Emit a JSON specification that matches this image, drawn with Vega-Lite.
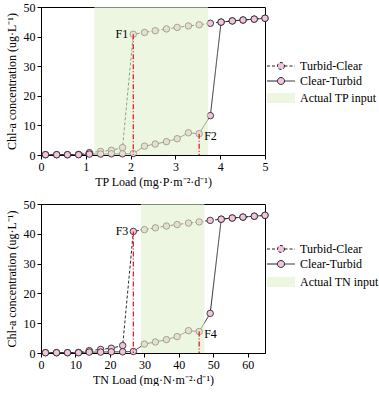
{
  "$schema": "https://vega.github.io/schema/vega-lite/v6.json",
  "padding": {"left": 4, "top": 0, "right": 0, "bottom": 0},
  "spacing": 9,
  "config": {
    "font": "Liberation Serif",
    "view": {"stroke": "black", "strokeWidth": 1},
    "axis": {"labelFont": "Liberation Serif", "titleFont": "Liberation Serif", "labelFontSize": 12, "titleFontSize": 12, "titleFontWeight": "normal", "labelColor": "black", "titleColor": "black", "domainColor": "black", "tickColor": "black", "grid": false, "tickSize": 4, "labelPadding": 2, "labelOverlap": false, "labelFlush": false},
    "legend": {"labelFont": "Liberation Serif", "labelFontSize": 12, "labelColor": "black", "padding": 0}
  },
  "datasets": {
    "tp": [
      {"load": 0.1, "chla": 0.1, "series": "Turbid-Clear"},
      {"load": 0.35, "chla": 0.1, "series": "Turbid-Clear"},
      {"load": 0.59, "chla": 0.1, "series": "Turbid-Clear"},
      {"load": 0.84, "chla": 0.2, "series": "Turbid-Clear"},
      {"load": 1.08, "chla": 0.8, "series": "Turbid-Clear"},
      {"load": 1.33, "chla": 1.2, "series": "Turbid-Clear"},
      {"load": 1.57, "chla": 1.6, "series": "Turbid-Clear"},
      {"load": 1.82, "chla": 2.5, "series": "Turbid-Clear"},
      {"load": 2.06, "chla": 40.8, "series": "Turbid-Clear"},
      {"load": 2.31, "chla": 41.4, "series": "Turbid-Clear"},
      {"load": 2.55, "chla": 42.0, "series": "Turbid-Clear"},
      {"load": 2.8, "chla": 42.6, "series": "Turbid-Clear"},
      {"load": 3.04, "chla": 43.1, "series": "Turbid-Clear"},
      {"load": 3.29, "chla": 43.6, "series": "Turbid-Clear"},
      {"load": 3.53, "chla": 44.0, "series": "Turbid-Clear"},
      {"load": 3.78, "chla": 44.5, "series": "Turbid-Clear"},
      {"load": 4.02, "chla": 44.9, "series": "Turbid-Clear"},
      {"load": 4.27, "chla": 45.3, "series": "Turbid-Clear"},
      {"load": 4.51, "chla": 45.6, "series": "Turbid-Clear"},
      {"load": 4.76, "chla": 45.9, "series": "Turbid-Clear"},
      {"load": 5.0, "chla": 46.2, "series": "Turbid-Clear"},
      {"load": 0.1, "chla": 0.1, "series": "Clear-Turbid"},
      {"load": 0.35, "chla": 0.1, "series": "Clear-Turbid"},
      {"load": 0.59, "chla": 0.1, "series": "Clear-Turbid"},
      {"load": 0.84, "chla": 0.1, "series": "Clear-Turbid"},
      {"load": 1.08, "chla": 0.3, "series": "Clear-Turbid"},
      {"load": 1.33, "chla": 0.3, "series": "Clear-Turbid"},
      {"load": 1.57, "chla": 0.4, "series": "Clear-Turbid"},
      {"load": 1.82, "chla": 0.4, "series": "Clear-Turbid"},
      {"load": 2.06, "chla": 0.5, "series": "Clear-Turbid"},
      {"load": 2.31, "chla": 3.0, "series": "Clear-Turbid"},
      {"load": 2.55, "chla": 3.7, "series": "Clear-Turbid"},
      {"load": 2.8, "chla": 4.5, "series": "Clear-Turbid"},
      {"load": 3.04, "chla": 5.5, "series": "Clear-Turbid"},
      {"load": 3.29, "chla": 7.5, "series": "Clear-Turbid"},
      {"load": 3.53, "chla": 7.2, "series": "Clear-Turbid"},
      {"load": 3.78, "chla": 13.3, "series": "Clear-Turbid"},
      {"load": 4.02, "chla": 44.9, "series": "Clear-Turbid"},
      {"load": 4.27, "chla": 45.3, "series": "Clear-Turbid"},
      {"load": 4.51, "chla": 45.6, "series": "Clear-Turbid"},
      {"load": 4.76, "chla": 45.9, "series": "Clear-Turbid"},
      {"load": 5.0, "chla": 46.2, "series": "Clear-Turbid"}
    ],
    "tn": [
      {"load": 1.3, "chla": 0.1, "series": "Turbid-Clear"},
      {"load": 4.5, "chla": 0.1, "series": "Turbid-Clear"},
      {"load": 7.7, "chla": 0.1, "series": "Turbid-Clear"},
      {"load": 10.9, "chla": 0.2, "series": "Turbid-Clear"},
      {"load": 14.0, "chla": 0.8, "series": "Turbid-Clear"},
      {"load": 17.3, "chla": 1.2, "series": "Turbid-Clear"},
      {"load": 20.4, "chla": 1.6, "series": "Turbid-Clear"},
      {"load": 23.7, "chla": 2.5, "series": "Turbid-Clear"},
      {"load": 26.8, "chla": 40.8, "series": "Turbid-Clear"},
      {"load": 30.0, "chla": 41.4, "series": "Turbid-Clear"},
      {"load": 33.2, "chla": 42.0, "series": "Turbid-Clear"},
      {"load": 36.4, "chla": 42.6, "series": "Turbid-Clear"},
      {"load": 39.5, "chla": 43.1, "series": "Turbid-Clear"},
      {"load": 42.8, "chla": 43.6, "series": "Turbid-Clear"},
      {"load": 45.9, "chla": 44.0, "series": "Turbid-Clear"},
      {"load": 49.1, "chla": 44.5, "series": "Turbid-Clear"},
      {"load": 52.3, "chla": 44.9, "series": "Turbid-Clear"},
      {"load": 55.5, "chla": 45.3, "series": "Turbid-Clear"},
      {"load": 58.6, "chla": 45.6, "series": "Turbid-Clear"},
      {"load": 61.9, "chla": 45.9, "series": "Turbid-Clear"},
      {"load": 65.0, "chla": 46.2, "series": "Turbid-Clear"},
      {"load": 1.3, "chla": 0.1, "series": "Clear-Turbid"},
      {"load": 4.5, "chla": 0.1, "series": "Clear-Turbid"},
      {"load": 7.7, "chla": 0.1, "series": "Clear-Turbid"},
      {"load": 10.9, "chla": 0.1, "series": "Clear-Turbid"},
      {"load": 14.0, "chla": 0.3, "series": "Clear-Turbid"},
      {"load": 17.3, "chla": 0.3, "series": "Clear-Turbid"},
      {"load": 20.4, "chla": 0.4, "series": "Clear-Turbid"},
      {"load": 23.7, "chla": 0.4, "series": "Clear-Turbid"},
      {"load": 26.8, "chla": 0.5, "series": "Clear-Turbid"},
      {"load": 30.0, "chla": 3.0, "series": "Clear-Turbid"},
      {"load": 33.2, "chla": 3.7, "series": "Clear-Turbid"},
      {"load": 36.4, "chla": 4.5, "series": "Clear-Turbid"},
      {"load": 39.5, "chla": 5.5, "series": "Clear-Turbid"},
      {"load": 42.8, "chla": 7.5, "series": "Clear-Turbid"},
      {"load": 45.9, "chla": 7.2, "series": "Clear-Turbid"},
      {"load": 49.1, "chla": 13.3, "series": "Clear-Turbid"},
      {"load": 52.3, "chla": 44.9, "series": "Clear-Turbid"},
      {"load": 55.5, "chla": 45.3, "series": "Clear-Turbid"},
      {"load": 58.6, "chla": 45.6, "series": "Clear-Turbid"},
      {"load": 61.9, "chla": 45.9, "series": "Clear-Turbid"},
      {"load": 65.0, "chla": 46.2, "series": "Clear-Turbid"}
    ],
    "tpShade": [{"x1": 1.19, "x2": 3.73, "label": "Actual TP input"}],
    "tnShade": [{"x1": 29.0, "x2": 47.4, "label": "Actual TN input"}],
    "tpF": [{"load": 2.06, "chla": 40.8, "name": "F1"}, {"load": 3.53, "chla": 7.2, "name": "F2"}],
    "tnF": [{"load": 26.8, "chla": 40.8, "name": "F3"}, {"load": 45.9, "chla": 7.2, "name": "F4"}]
  },
  "resolve": {
    "scale": {"x": "independent", "y": "independent", "strokeDash": "independent", "fill": "independent"},
    "legend": {"strokeDash": "independent", "fill": "independent"}
  },
  "vconcat": [
    {
      "width": 224,
      "height": 148,
      "layer": [
        {
          "data": {"name": "tpShade"},
          "mark": {"type": "rect", "opacity": 0},
          "encoding": {
            "x": {"field": "x1", "type": "quantitative", "scale": {"domain": [0, 5], "nice": false},
                  "axis": {"title": "TP Load (mg·P·m⁻²·d⁻¹)", "values": [0, 0.5, 1, 1.5, 2, 2.5, 3, 3.5, 4, 4.5, 5], "format": "d", "labelExpr": "datum.value % 1 === 0 ? datum.label : ''", "labelOverlap": false}},
            "x2": {"field": "x2"},
            "y": {"datum": 0, "type": "quantitative", "scale": {"domain": [0, 50], "nice": false},
                  "axis": {"title": "Chl-a concentration (ug·L⁻¹)", "values": [0, 10, 20, 30, 40, 50], "titlePadding": 5, "labelOverlap": false}},
            "y2": {"datum": 50}
          }
        },
        {
          "data": {"name": "tp"},
          "mark": {"type": "line", "color": "#2b2b2b", "strokeWidth": 1},
          "encoding": {
            "x": {"field": "load", "type": "quantitative", "axis": {"title": "TP Load (mg·P·m⁻²·d⁻¹)", "values": [0, 0.5, 1, 1.5, 2, 2.5, 3, 3.5, 4, 4.5, 5], "format": "d", "labelExpr": "datum.value % 1 === 0 ? datum.label : ''", "labelOverlap": false}},
            "y": {"field": "chla", "type": "quantitative", "axis": {"title": "Chl-a concentration (ug·L⁻¹)", "values": [0, 10, 20, 30, 40, 50], "titlePadding": 5, "labelOverlap": false}},
            "strokeDash": {"field": "series", "type": "nominal",
              "scale": {"domain": ["Turbid-Clear", "Clear-Turbid"], "range": [[3, 2], [1, 0]]},
              "legend": {"title": null, "orient": "none", "legendX": 234, "legendY": 53, "symbolSize": 100, "labelOffset": 13, "rowPadding": 3,
                "symbolType": "M-2.8,0H-0.7M0.7,0H2.8M0.7,0A0.7,0.7,0,1,1,-0.7,0A0.7,0.7,0,1,1,0.7,0Z",
                "symbolFillColor": "#f2c4de", "symbolStrokeColor": "#222222", "symbolStrokeWidth": 1}}
          }
        },
        {
          "data": {"name": "tp"},
          "mark": {"type": "point", "filled": true, "fill": "#f2c4de", "stroke": "#1a1a1a", "strokeWidth": 0.8, "size": 42, "opacity": 1},
          "encoding": {
            "x": {"field": "load", "type": "quantitative", "axis": {"title": "TP Load (mg·P·m⁻²·d⁻¹)", "values": [0, 0.5, 1, 1.5, 2, 2.5, 3, 3.5, 4, 4.5, 5], "format": "d", "labelExpr": "datum.value % 1 === 0 ? datum.label : ''", "labelOverlap": false}},
            "y": {"field": "chla", "type": "quantitative", "axis": {"title": "Chl-a concentration (ug·L⁻¹)", "values": [0, 10, 20, 30, 40, 50], "titlePadding": 5, "labelOverlap": false}}
          }
        },
        {
          "data": {"name": "tpShade"},
          "mark": {"type": "rect", "opacity": 0.58},
          "encoding": {
            "x": {"field": "x1", "type": "quantitative", "axis": {"title": "TP Load (mg·P·m⁻²·d⁻¹)", "values": [0, 0.5, 1, 1.5, 2, 2.5, 3, 3.5, 4, 4.5, 5], "format": "d", "labelExpr": "datum.value % 1 === 0 ? datum.label : ''", "labelOverlap": false}},
            "x2": {"field": "x2"},
            "y": {"datum": 0, "type": "quantitative", "axis": {"title": "Chl-a concentration (ug·L⁻¹)", "values": [0, 10, 20, 30, 40, 50], "titlePadding": 5, "labelOverlap": false}},
            "y2": {"datum": 50},
            "fill": {"field": "label", "type": "nominal", "scale": {"range": ["#e0efcc"]},
              "legend": {"title": null, "orient": "none", "legendX": 234, "legendY": 85, "symbolSize": 100, "labelOffset": 13,
                "symbolType": "M-2.8,-1H2.8V1H-2.8Z"}}
          }
        },
        {
          "data": {"name": "tpF"},
          "mark": {"type": "rule", "color": "#e3202a", "strokeWidth": 1.3, "strokeDash": [5, 2, 1, 2]},
          "encoding": {
            "x": {"field": "load", "type": "quantitative", "axis": {"title": "TP Load (mg·P·m⁻²·d⁻¹)", "values": [0, 0.5, 1, 1.5, 2, 2.5, 3, 3.5, 4, 4.5, 5], "format": "d", "labelExpr": "datum.value % 1 === 0 ? datum.label : ''", "labelOverlap": false}},
            "y": {"field": "chla", "type": "quantitative", "axis": {"title": "Chl-a concentration (ug·L⁻¹)", "values": [0, 10, 20, 30, 40, 50], "titlePadding": 5, "labelOverlap": false}},
            "y2": {"datum": 0}
          }
        },
        {
          "data": {"name": "tpF"},
          "transform": [{"filter": "datum.chla > 20"}],
          "mark": {"type": "text", "align": "right", "baseline": "middle", "dx": -5, "fontSize": 12, "font": "Liberation Serif"},
          "encoding": {
            "x": {"field": "load", "type": "quantitative", "axis": {"title": "TP Load (mg·P·m⁻²·d⁻¹)", "values": [0, 0.5, 1, 1.5, 2, 2.5, 3, 3.5, 4, 4.5, 5], "format": "d", "labelExpr": "datum.value % 1 === 0 ? datum.label : ''", "labelOverlap": false}},
            "y": {"field": "chla", "type": "quantitative", "axis": {"title": "Chl-a concentration (ug·L⁻¹)", "values": [0, 10, 20, 30, 40, 50], "titlePadding": 5, "labelOverlap": false}},
            "text": {"field": "name"}
          }
        },
        {
          "data": {"name": "tpF"},
          "transform": [{"filter": "datum.chla < 20"}],
          "mark": {"type": "text", "align": "left", "baseline": "middle", "dx": 5, "dy": 2, "fontSize": 12, "font": "Liberation Serif"},
          "encoding": {
            "x": {"field": "load", "type": "quantitative", "axis": {"title": "TP Load (mg·P·m⁻²·d⁻¹)", "values": [0, 0.5, 1, 1.5, 2, 2.5, 3, 3.5, 4, 4.5, 5], "format": "d", "labelExpr": "datum.value % 1 === 0 ? datum.label : ''", "labelOverlap": false}},
            "y": {"field": "chla", "type": "quantitative", "axis": {"title": "Chl-a concentration (ug·L⁻¹)", "values": [0, 10, 20, 30, 40, 50], "titlePadding": 5, "labelOverlap": false}},
            "text": {"field": "name"}
          }
        },
        {
          "mark": {"type": "text", "fontSize": 13, "font": "Liberation Serif", "align": "center", "baseline": "middle", "text": "(a)"},
          "encoding": {
            "x": {"datum": 0.54, "type": "quantitative", "axis": {"title": "TP Load (mg·P·m⁻²·d⁻¹)", "values": [0, 0.5, 1, 1.5, 2, 2.5, 3, 3.5, 4, 4.5, 5], "format": "d", "labelExpr": "datum.value % 1 === 0 ? datum.label : ''", "labelOverlap": false}},
            "y": {"datum": 41.7, "type": "quantitative", "axis": {"title": "Chl-a concentration (ug·L⁻¹)", "values": [0, 10, 20, 30, 40, 50], "titlePadding": 5, "labelOverlap": false}}
          }
        }
      ]
    },
    {
      "width": 224,
      "height": 149,
      "layer": [
        {
          "data": {"name": "tnShade"},
          "mark": {"type": "rect", "opacity": 0},
          "encoding": {
            "x": {"field": "x1", "type": "quantitative", "scale": {"domain": [0, 65], "nice": false},
                  "axis": {"title": "TN Load (mg·N·m⁻²·d⁻¹)", "values": [0, 10, 20, 30, 40, 50, 60], "labelOverlap": false}},
            "x2": {"field": "x2"},
            "y": {"datum": 0, "type": "quantitative", "scale": {"domain": [0, 50], "nice": false},
                  "axis": {"title": "Chl-a concentration (ug·L⁻¹)", "values": [0, 10, 20, 30, 40, 50], "titlePadding": 5, "labelOverlap": false}},
            "y2": {"datum": 50}
          }
        },
        {
          "data": {"name": "tn"},
          "mark": {"type": "line", "color": "#2b2b2b", "strokeWidth": 1},
          "encoding": {
            "x": {"field": "load", "type": "quantitative", "axis": {"title": "TN Load (mg·N·m⁻²·d⁻¹)", "values": [0, 10, 20, 30, 40, 50, 60], "labelOverlap": false}},
            "y": {"field": "chla", "type": "quantitative", "axis": {"title": "Chl-a concentration (ug·L⁻¹)", "values": [0, 10, 20, 30, 40, 50], "titlePadding": 5, "labelOverlap": false}},
            "strokeDash": {"field": "series", "type": "nominal",
              "scale": {"domain": ["Turbid-Clear", "Clear-Turbid"], "range": [[3, 2], [1, 0]]},
              "legend": {"title": null, "orient": "none", "legendX": 234, "legendY": 39, "symbolSize": 100, "labelOffset": 13, "rowPadding": 3,
                "symbolType": "M-2.8,0H-0.7M0.7,0H2.8M0.7,0A0.7,0.7,0,1,1,-0.7,0A0.7,0.7,0,1,1,0.7,0Z",
                "symbolFillColor": "#f2c4de", "symbolStrokeColor": "#222222", "symbolStrokeWidth": 1}}
          }
        },
        {
          "data": {"name": "tn"},
          "mark": {"type": "point", "filled": true, "fill": "#f2c4de", "stroke": "#1a1a1a", "strokeWidth": 0.8, "size": 42, "opacity": 1},
          "encoding": {
            "x": {"field": "load", "type": "quantitative", "axis": {"title": "TN Load (mg·N·m⁻²·d⁻¹)", "values": [0, 10, 20, 30, 40, 50, 60], "labelOverlap": false}},
            "y": {"field": "chla", "type": "quantitative", "axis": {"title": "Chl-a concentration (ug·L⁻¹)", "values": [0, 10, 20, 30, 40, 50], "titlePadding": 5, "labelOverlap": false}}
          }
        },
        {
          "data": {"name": "tnShade"},
          "mark": {"type": "rect", "opacity": 0.58},
          "encoding": {
            "x": {"field": "x1", "type": "quantitative", "axis": {"title": "TN Load (mg·N·m⁻²·d⁻¹)", "values": [0, 10, 20, 30, 40, 50, 60], "labelOverlap": false}},
            "x2": {"field": "x2"},
            "y": {"datum": 0, "type": "quantitative", "axis": {"title": "Chl-a concentration (ug·L⁻¹)", "values": [0, 10, 20, 30, 40, 50], "titlePadding": 5, "labelOverlap": false}},
            "y2": {"datum": 50},
            "fill": {"field": "label", "type": "nominal", "scale": {"range": ["#e0efcc"]},
              "legend": {"title": null, "orient": "none", "legendX": 234, "legendY": 72, "symbolSize": 100, "labelOffset": 13,
                "symbolType": "M-2.8,-1H2.8V1H-2.8Z"}}
          }
        },
        {
          "data": {"name": "tnF"},
          "mark": {"type": "rule", "color": "#e3202a", "strokeWidth": 1.3, "strokeDash": [5, 2, 1, 2]},
          "encoding": {
            "x": {"field": "load", "type": "quantitative", "axis": {"title": "TN Load (mg·N·m⁻²·d⁻¹)", "values": [0, 10, 20, 30, 40, 50, 60], "labelOverlap": false}},
            "y": {"field": "chla", "type": "quantitative", "axis": {"title": "Chl-a concentration (ug·L⁻¹)", "values": [0, 10, 20, 30, 40, 50], "titlePadding": 5, "labelOverlap": false}},
            "y2": {"datum": 0}
          }
        },
        {
          "data": {"name": "tnF"},
          "transform": [{"filter": "datum.chla > 20"}],
          "mark": {"type": "text", "align": "right", "baseline": "middle", "dx": -5, "fontSize": 12, "font": "Liberation Serif"},
          "encoding": {
            "x": {"field": "load", "type": "quantitative", "axis": {"title": "TN Load (mg·N·m⁻²·d⁻¹)", "values": [0, 10, 20, 30, 40, 50, 60], "labelOverlap": false}},
            "y": {"field": "chla", "type": "quantitative", "axis": {"title": "Chl-a concentration (ug·L⁻¹)", "values": [0, 10, 20, 30, 40, 50], "titlePadding": 5, "labelOverlap": false}},
            "text": {"field": "name"}
          }
        },
        {
          "data": {"name": "tnF"},
          "transform": [{"filter": "datum.chla < 20"}],
          "mark": {"type": "text", "align": "left", "baseline": "middle", "dx": 5, "dy": 2, "fontSize": 12, "font": "Liberation Serif"},
          "encoding": {
            "x": {"field": "load", "type": "quantitative", "axis": {"title": "TN Load (mg·N·m⁻²·d⁻¹)", "values": [0, 10, 20, 30, 40, 50, 60], "labelOverlap": false}},
            "y": {"field": "chla", "type": "quantitative", "axis": {"title": "Chl-a concentration (ug·L⁻¹)", "values": [0, 10, 20, 30, 40, 50], "titlePadding": 5, "labelOverlap": false}},
            "text": {"field": "name"}
          }
        },
        {
          "mark": {"type": "text", "fontSize": 13, "font": "Liberation Serif", "align": "center", "baseline": "middle", "text": "(b)"},
          "encoding": {
            "x": {"datum": 7.3, "type": "quantitative", "axis": {"title": "TN Load (mg·N·m⁻²·d⁻¹)", "values": [0, 10, 20, 30, 40, 50, 60], "labelOverlap": false}},
            "y": {"datum": 42.3, "type": "quantitative", "axis": {"title": "Chl-a concentration (ug·L⁻¹)", "values": [0, 10, 20, 30, 40, 50], "titlePadding": 5, "labelOverlap": false}}
          }
        },
        {
          "mark": {"type": "text", "fontSize": 13, "font": "Liberation Serif", "align": "center", "baseline": "middle", "text": "TN:TP=13"},
          "encoding": {
            "x": {"datum": 12.5, "type": "quantitative", "axis": {"title": "TN Load (mg·N·m⁻²·d⁻¹)", "values": [0, 10, 20, 30, 40, 50, 60], "labelOverlap": false}},
            "y": {"datum": 23.6, "type": "quantitative", "axis": {"title": "Chl-a concentration (ug·L⁻¹)", "values": [0, 10, 20, 30, 40, 50], "titlePadding": 5, "labelOverlap": false}}
          }
        }
      ]
    }
  ]
}
